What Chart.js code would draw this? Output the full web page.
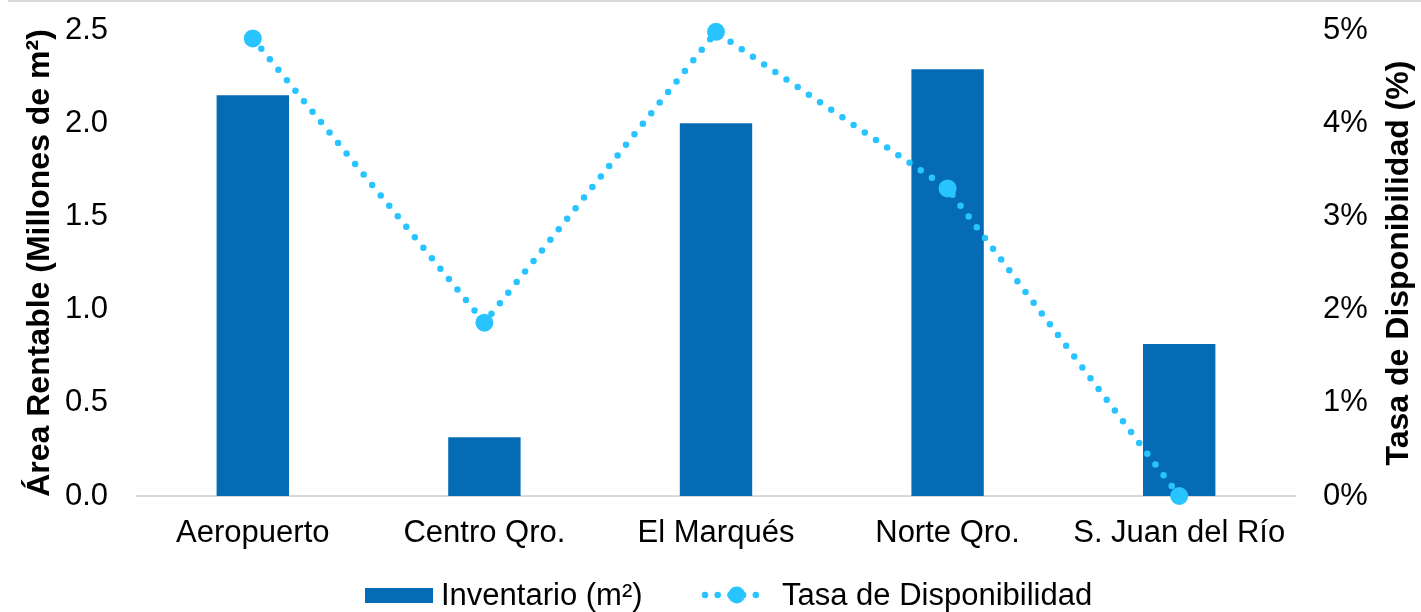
<!DOCTYPE html>
<html lang="es">
<head>
<meta charset="utf-8">
<title>Inventario y disponibilidad</title>
<script src="https://cdn.jsdelivr.net/npm/chart.js@4.4.1/dist/chart.umd.min.js"></script>
<style>
  html, body { margin: 0; padding: 0; background: #fff; }
  #wrap { position: relative; width: 1421px; height: 612px; overflow: hidden; }
  #topRule { position: absolute; left: 8px; right: 0; top: 0; height: 2px; background: #d9d9d9; }
  #legend { position: absolute; left: 0; top: 578px; width: 1421px; height: 34px;
            font-family: 'Liberation Sans', Arial, sans-serif; font-size: 31px; color: #000; }
  .item { position: absolute; top: 0; height: 34px; line-height: 34px; display: flex; align-items: center; white-space: nowrap; }
</style>
</head>
<body>
<div id="wrap">
  <canvas id="chart" width="1421" height="612"></canvas>
  <div id="topRule"></div>
  <div id="legend"></div>
</div>
<script>
const FONT = "'Liberation Sans', Arial, sans-serif";

const categorias = ['Aeropuerto', 'Centro Qro.', 'El Marqués', 'Norte Qro.', 'S. Juan del Río'];
// millones de m²
const inventario = [2.15, 0.315, 2.0, 2.29, 0.815];
// porcentaje
const disponibilidad = [4.91, 1.86, 4.98, 3.30, 0.0];

const serieBarras = 'Inventario (m²)';
const serieLinea = 'Tasa de Disponibilidad';
const tituloIzq = 'Área Rentable (Millones de m²)';
const tituloDer = 'Tasa de Disponibilidad (%)';

const AZUL = '#066BB5';
const CELESTE = '#28C4FF';

// el titulo del eje derecho se lee de abajo hacia arriba, igual que el izquierdo
const tituloDerecho = {
    id: 'tituloDerecho',
    afterDraw(chart) {
        const { ctx, chartArea } = chart;
        const eje = chart.scales.yDer;
        ctx.save();
        ctx.translate(eje.right - 22, (chartArea.top + chartArea.bottom) / 2);
        ctx.rotate(-Math.PI / 2);
        ctx.font = 'bold 32px ' + FONT;
        ctx.fillStyle = '#000';
        ctx.textAlign = 'center';
        ctx.textBaseline = 'middle';
        ctx.fillText(tituloDer, 0, 0);
        ctx.restore();
    }
};

// ancho fijo de los ejes verticales, sin el margen extra que suma el padding de los ticks
function ajustarEjeY(ancho) {
    return s => {
        s.width = ancho;
        s.paddingTop = 0;
        s.paddingBottom = 0;
    };
}

const ctx = document.getElementById('chart').getContext('2d');
const chart = new Chart(ctx, {
    data: {
        labels: categorias,
        datasets: [
            {
                type: 'line',
                label: serieLinea,
                data: disponibilidad,
                yAxisID: 'yDer',
                order: 1,
                clip: false,
                borderColor: CELESTE,
                borderWidth: 6.5,
                borderDash: [0, 13.5],
                borderCapStyle: 'round',
                pointRadius: 9,
                pointBorderWidth: 0,
                pointBackgroundColor: CELESTE,
                tension: 0
            },
            {
                type: 'bar',
                label: serieBarras,
                data: inventario,
                yAxisID: 'yIzq',
                order: 2,
                backgroundColor: AZUL,
                barPercentage: 0.3126,
                categoryPercentage: 1
            }
        ]
    },
    options: {
        responsive: false,
        animation: false,
        layout: { padding: { top: 30, left: 0, right: 0, bottom: 0 } },
        plugins: {
            legend: { display: false },
            tooltip: { enabled: false }
        },
        scales: {
            x: {
                grid: { display: false, drawTicks: false },
                border: { display: true, color: '#d9d9d9', width: 2 },
                ticks: { color: '#000', font: { family: FONT, size: 31 }, padding: 19, maxRotation: 0 },
                afterFit(s) { s.height = 116; }
            },
            yIzq: {
                position: 'left',
                min: 0,
                max: 2.5,
                grid: { display: false, drawTicks: false },
                border: { display: false },
                ticks: {
                    stepSize: 0.5,
                    padding: 29,
                    color: '#000',
                    font: { family: FONT, size: 31 },
                    callback: v => v.toFixed(1)
                },
                title: {
                    display: true,
                    text: tituloIzq,
                    color: '#000',
                    font: { family: FONT, size: 32, weight: 'bold' },
                    padding: { top: 21, bottom: 0 }
                },
                afterFit: ajustarEjeY(137)
            },
            yDer: {
                position: 'right',
                min: 0,
                max: 5,
                grid: { display: false, drawTicks: false },
                border: { display: false },
                ticks: {
                    stepSize: 1,
                    padding: 28,
                    color: '#000',
                    font: { family: FONT, size: 31 },
                    callback: v => v + '%'
                },
                afterFit: ajustarEjeY(126)
            }
        }
    },
    plugins: [tituloDerecho]
});

// leyenda en HTML, debajo del eje de categorias
function crearLeyenda() {
    const cont = document.getElementById('legend');

    const item1 = document.createElement('div');
    item1.className = 'item';
    item1.style.left = '365px';
    const caja = document.createElement('span');
    caja.style.cssText = 'display:inline-block;width:68px;height:15px;margin-right:8px;background:' + AZUL;
    item1.appendChild(caja);
    item1.appendChild(document.createTextNode(serieBarras));
    cont.appendChild(item1);

    const item2 = document.createElement('div');
    item2.className = 'item';
    item2.style.left = '700px';
    const mini = document.createElement('canvas');
    mini.width = 64;
    mini.height = 22;
    mini.style.marginRight = '18px';
    const c = mini.getContext('2d');
    c.strokeStyle = CELESTE;
    c.fillStyle = CELESTE;
    c.lineWidth = 6.5;
    c.lineCap = 'round';
    c.setLineDash([0, 12.7]);
    c.beginPath();
    c.moveTo(5, 11);
    c.lineTo(60, 11);
    c.stroke();
    c.beginPath();
    c.arc(36.7, 11, 8.5, 0, Math.PI * 2);
    c.fill();
    item2.appendChild(mini);
    item2.appendChild(document.createTextNode(serieLinea));
    cont.appendChild(item2);
}
crearLeyenda();
</script>
</body>
</html>
